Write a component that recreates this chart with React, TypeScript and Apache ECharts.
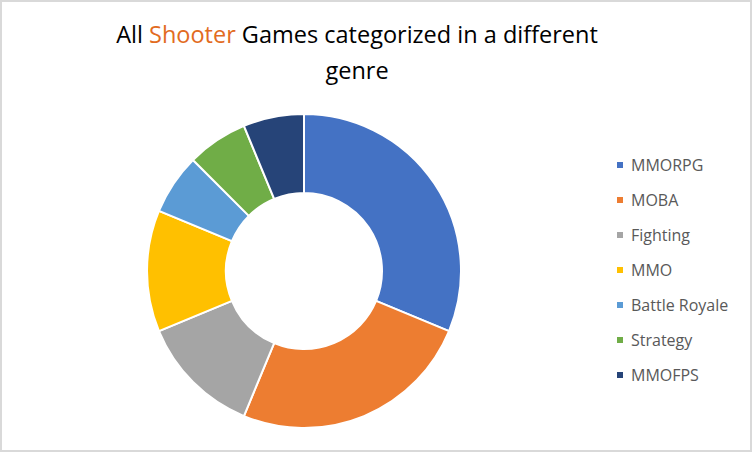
import { useEffect, useRef } from "react"
import * as echarts from "echarts"

const genres = ["MMORPG", "MOBA", "Fighting", "MMO", "Battle Royale", "Strategy", "MMOFPS"]
const gameCounts = [5, 4, 2, 2, 1, 1, 1]
const sliceColors = ["#4472C4", "#ED7D31", "#A5A5A5", "#FFC000", "#5B9BD5", "#70AD47", "#264478"]

export default function App() {
  const ref = useRef<HTMLDivElement>(null)

  useEffect(() => {
    document.body.style.margin = "0"
    if (!ref.current) return
    const chart = echarts.init(ref.current, null, { renderer: "svg" })
    chart.setOption({
      animation: false,
      backgroundColor: "#fff",
      graphic: [
        {
          type: "rect",
          shape: { x: 1, y: 1, width: 750, height: 450 },
          style: { fill: "none", stroke: "#D9D9D9", lineWidth: 2 },
          silent: true,
        },
      ],
      title: {
        text: "All {o|Shooter} Games categorized in a different\ngenre",
        left: 352,
        textAlign: "center",
        top: 11,
        textStyle: {
          fontFamily: "Open Sans",
          fontSize: 23.5,
          fontWeight: "normal",
          color: "#000",
          lineHeight: 36,
          rich: {
            o: { color: "#E26B21", fontFamily: "Open Sans", fontSize: 23.5, lineHeight: 36 },
          },
        },
      },
      legend: {
        orient: "vertical",
        left: 610,
        top: 150,
        icon: "rect",
        itemWidth: 8,
        itemHeight: 8,
        itemGap: 15,
        textStyle: {
          fontFamily: "Open Sans",
          fontSize: 16,
          color: "#595959",
          lineHeight: 20,
          padding: [0, 0, 0, 2],
        },
      },
      series: [
        {
          type: "pie",
          center: [304, 271],
          radius: [78, 157],
          startAngle: 90,
          clockwise: true,
          label: { show: false },
          labelLine: { show: false },
          itemStyle: { borderColor: "#fff", borderWidth: 2 },
          data: genres.map((name, i) => ({
            name,
            value: gameCounts[i],
            itemStyle: { color: sliceColors[i] },
          })),
        },
      ],
    })
    return () => chart.dispose()
  }, [])

  return <div ref={ref} style={{ width: 752, height: 452 }} />
}
